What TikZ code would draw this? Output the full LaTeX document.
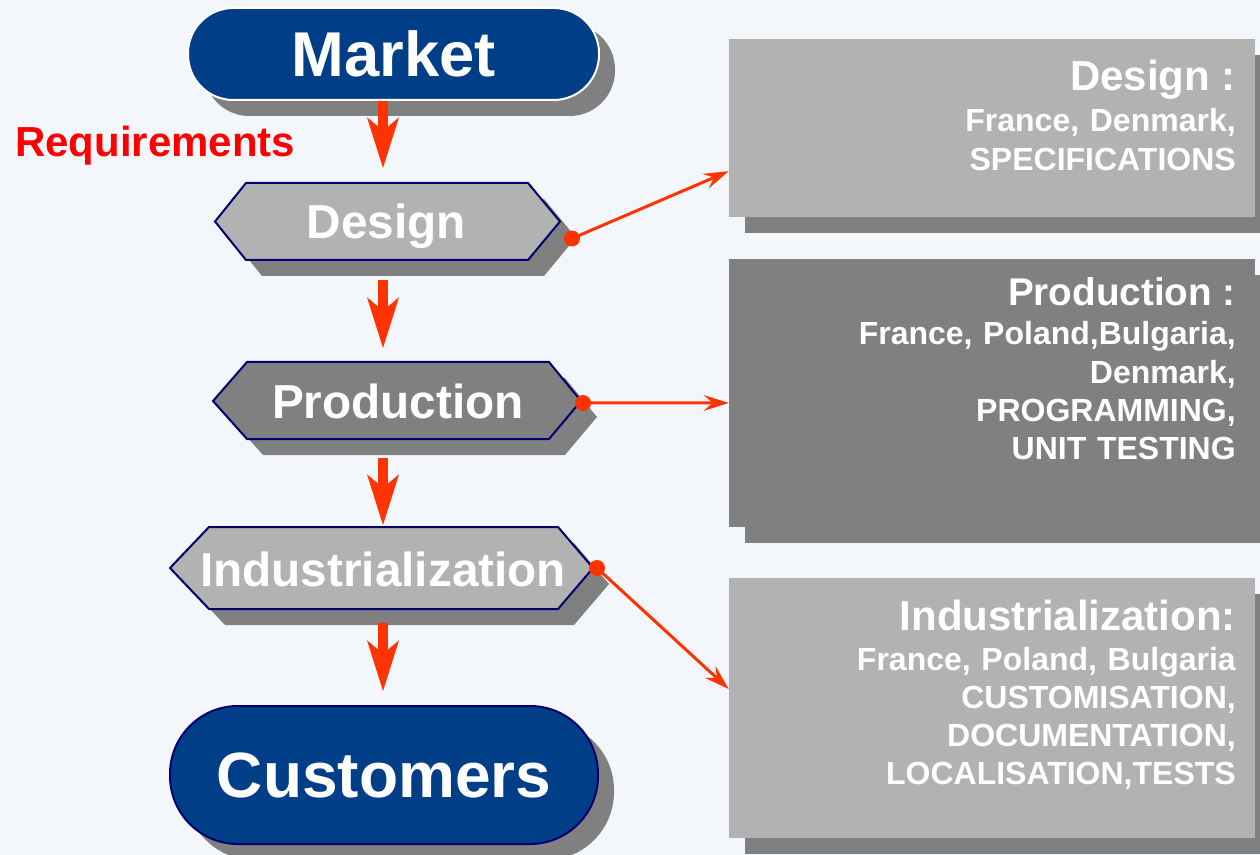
\documentclass[tikz,border=0pt]{standalone}
\usepackage{fontspec}
\setmainfont{Liberation Sans}
\usetikzlibrary{arrows.meta,shadows,calc}
\definecolor{bgc}{HTML}{F3F7FB}
\definecolor{pillblue}{RGB}{0,63,135}
\definecolor{navy}{RGB}{0,0,110}
\definecolor{lightg}{HTML}{B2B2B2}
\definecolor{darkg}{HTML}{808080}
\definecolor{shadowc}{HTML}{808080}
\definecolor{arrowred}{HTML}{FF3300}
\definecolor{reqred}{HTML}{FF0000}
\newcommand{\hexa}[9]{%
  \fill[shadowc, shift={(16,16)}] (#2,#7) -- (#3,#6) -- (#4,#6) -- (#5,#7) -- (#4,#8) -- (#3,#8) -- cycle;
  \draw[hexline, fill=#9] (#2,#7) -- (#3,#6) -- (#4,#6) -- (#5,#7) -- (#4,#8) -- (#3,#8) -- cycle;
  \coordinate (#1T) at (383,#6);
  \coordinate (#1B) at (383,#8);
  \coordinate (#1R) at (#5,#7);
}
\begin{document}
\begin{tikzpicture}[x=0.75pt,y=-0.75pt,
  pill/.style={rectangle, fill=pillblue, text=white, inner sep=0pt, line width=1.5pt,
    general shadow={fill=shadowc, shadow xshift=12pt, shadow yshift=-12pt}},
  hexline/.style={draw=navy, line width=1.5pt, line join=miter},
  hextext/.style={text=white, inner sep=0pt, anchor=base, font=\bfseries\fontsize{35.8}{40}\selectfont},
  rbox/.style={rectangle, inner sep=0pt, minimum width=394.5pt,
    general shadow={fill=shadowc, shadow xshift=12pt, shadow yshift=-12pt}},
  rtitle/.style={text=white, inner sep=0pt, anchor=base east, font=\bfseries\fontsize{31.5}{34}\selectfont},
  rsub/.style={text=white, inner sep=0pt, anchor=base east, text width=400pt, align=right,
    font=\bfseries\fontsize{24}{28.7}\selectfont},
  bigarrow/.style={draw=arrowred, line width=7.5pt,
    -{Stealth[length=38pt, width=24pt, inset=10pt, line width=0pt]}},
  link/.style={draw=arrowred, line width=2.25pt,
    -{Stealth[length=19pt, width=12pt, inset=7pt, line width=0pt]}},
  dot/.style={fill=arrowred}
]
\useasboundingbox (0,0) rectangle (1260,855);
\fill[bgc] (0,0) rectangle (1260,855);

% right boxes
\node[rbox, fill=lightg, minimum height=133.5pt] (designBox) at (992,128) {};
\node[rbox, fill=darkg, minimum height=201pt] (productionBox) at (992,393) {};
\node[rbox, fill=lightg, minimum height=195pt] (industrialBox) at (992,708) {};

\node[rtitle] (designTitle) at (1236,91) {Design :};
\node[rsub] (designSub) at (1236,132) {France, Denmark,\\SPECIFICATIONS};
\node[rtitle, font=\bfseries\fontsize{29}{34}\selectfont] (productionTitle) at (1236,306) {Production :};
\node[rsub] (productionSub) at (1236,345) {France, Poland,Bulgaria,\\Denmark,\\PROGRAMMING,\\UNIT TESTING};
\node[rtitle] (industrialTitle) at (1236,630) {Industrialization:};
\node[rsub] (industrialSub) at (1236,670) {France, Poland, Bulgaria\\CUSTOMISATION,\\DOCUMENTATION,\\LOCALISATION,TESTS};

% pills
\node[pill, draw=white, minimum width=308.25pt, minimum height=69pt, rounded corners=34pt,
  font=\bfseries\fontsize{47.5}{50}\selectfont] (market) at (393.5,54) {Market};
\node[pill, draw=navy, minimum width=321pt, minimum height=103.5pt, rounded corners=51pt,
  font=\bfseries\fontsize{48}{50}\selectfont] (customers) at (384,775) {Customers};

% hexagons
\hexa{design}{215}{246}{528}{560}{183}{221.5}{260}{lightg}
\hexa{production}{213}{247}{549}{581}{362}{401}{439}{darkg}
\hexa{industrial}{170}{209}{558}{593}{527}{568}{609}{lightg}
\node[hextext] (design) at (386.5,239) {Design};
\node[hextext] (production) at (398,419) {Production};
\node[hextext] (industrial) at (383,586) {Industrialization};

\node[anchor=base west, inner sep=0pt, text=reqred, font=\bfseries\fontsize{31.5}{36}\selectfont] (req) at (15,157) {Requirements};

% vertical arrows
\draw[bigarrow, shorten >=11.25pt] (designT |- market.south) -- (designT);
\draw[bigarrow, shorten <=15pt, shorten >=10.5pt] (designB) -- (productionT);
\draw[bigarrow, shorten <=14.25pt, shorten >=1.5pt] (productionB) -- (industrialT);
\draw[bigarrow, shorten <=10.5pt, shorten >=10.5pt] (industrialB) -- (industrialB |- customers.north);

% links
\coordinate (designDot) at ($(designR)+(12,17)$);
\coordinate (productionDot) at ($(productionR)+(2,2)$);
\coordinate (industrialDot) at ($(industrialR)+(4,0)$);
\draw[link] (designDot) -- ($(designBox.south west)!0.258!(designBox.north west)$);
\draw[link] (productionDot) -- ($(productionBox.south west)!0.463!(productionBox.north west)$);
\draw[link] (industrialDot) -- ($(industrialBox.south west)!0.573!(industrialBox.north west)$);
\fill[dot] (designDot) circle[radius=6pt];
\fill[dot] (productionDot) circle[radius=6pt];
\fill[dot] (industrialDot) circle[radius=6pt];
\end{tikzpicture}
\end{document}
